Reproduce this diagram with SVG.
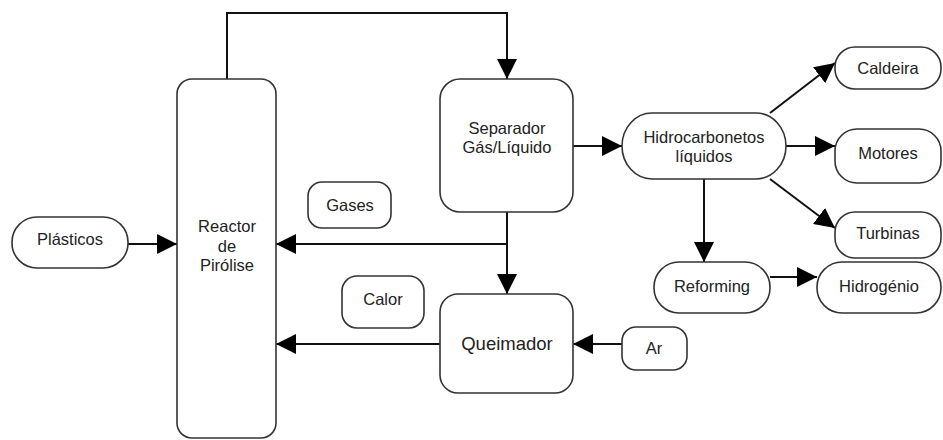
<svg xmlns="http://www.w3.org/2000/svg" width="943" height="440" viewBox="0 0 943 440">
<style>
.n{fill:#fff;stroke:#333;stroke-width:1.6}
.t{font-family:"Liberation Sans",Arial,sans-serif;font-size:16.5px;fill:#222;text-anchor:middle}
.big{font-size:18.5px}
.c{fill:none;stroke:#111;stroke-width:2}
</style>
<defs>
<marker id="ah" markerUnits="userSpaceOnUse" markerWidth="20" markerHeight="20" viewBox="0 0 20 20" refX="20" refY="10" orient="auto">
<path d="M0,0 L20,10 L0,20 z" fill="#000"/>
</marker>
</defs>
<rect width="943" height="440" fill="#fff"/>
<g id="connectors">
<path class="c" d="M227,79 V13 H507 V79" marker-end="url(#ah)"/>
<path class="c" d="M128,244 H177" marker-end="url(#ah)"/>
<path class="c" d="M507,212 V294" marker-end="url(#ah)"/>
<path class="c" d="M507,244 H276" marker-end="url(#ah)"/>
<path class="c" d="M440,344 H276" marker-end="url(#ah)"/>
<path class="c" d="M622,344 H573" marker-end="url(#ah)"/>
<path class="c" d="M573,146 H622" marker-end="url(#ah)"/>
<path class="c" d="M770,113 L835,63" marker-end="url(#ah)"/>
<path class="c" d="M786,146 H835" marker-end="url(#ah)"/>
<path class="c" d="M770,179 L835,228" marker-end="url(#ah)"/>
<path class="c" d="M704,179 V262" marker-end="url(#ah)"/>
<path class="c" d="M770,277 H817" marker-end="url(#ah)"/>
</g>
<g id="reactor"><rect class="n" x="177" y="79" width="99" height="359" rx="15"/>
<text class="t" x="227" y="232">Reactor</text><text class="t" x="227" y="252">de</text><text class="t" x="227" y="271">Pirólise</text></g>
<g id="plasticos"><rect class="n" x="12" y="217" width="116" height="51" rx="25"/><text class="t" x="70" y="245">Plásticos</text></g>
<g id="separador"><rect class="n" x="440" y="79" width="133" height="133" rx="20"/>
<text class="t" x="507" y="134">Separador</text><text class="t" x="507" y="153">Gás/Líquido</text></g>
<g id="gases"><rect class="n" x="308" y="182" width="83" height="46" rx="14"/><text class="t" x="350" y="211">Gases</text></g>
<g id="calor"><rect class="n" x="342" y="276" width="82" height="52" rx="15"/><text class="t" x="383" y="305">Calor</text></g>
<g id="queimador"><rect class="n" x="440" y="294" width="133" height="99" rx="18"/><text class="t big" x="507" y="350">Queimador</text></g>
<g id="ar"><rect class="n" x="622" y="327" width="65" height="43" rx="14"/><text class="t" x="654" y="354">Ar</text></g>
<g id="hidrocarbonetos"><rect class="n" x="622" y="113" width="164" height="66" rx="30" ry="33"/>
<text class="t" x="704" y="143">Hidrocarbonetos</text><text class="t" x="704" y="162">líquidos</text></g>
<g id="caldeira"><rect class="n" x="835" y="47" width="106" height="42" rx="20"/><text class="t" x="888" y="74">Caldeira</text></g>
<g id="motores"><rect class="n" x="835" y="129" width="106" height="54" rx="22"/><text class="t" x="888" y="159">Motores</text></g>
<g id="turbinas"><rect class="n" x="835" y="212" width="106" height="46" rx="20"/><text class="t" x="888" y="239">Turbinas</text></g>
<g id="reforming"><rect class="n" x="654" y="262" width="116" height="51" rx="25"/><text class="t" x="712" y="292">Reforming</text></g>
<g id="hidrogenio"><rect class="n" x="817" y="262" width="124" height="51" rx="25"/><text class="t" x="879" y="292">Hidrogénio</text></g>
</svg>
